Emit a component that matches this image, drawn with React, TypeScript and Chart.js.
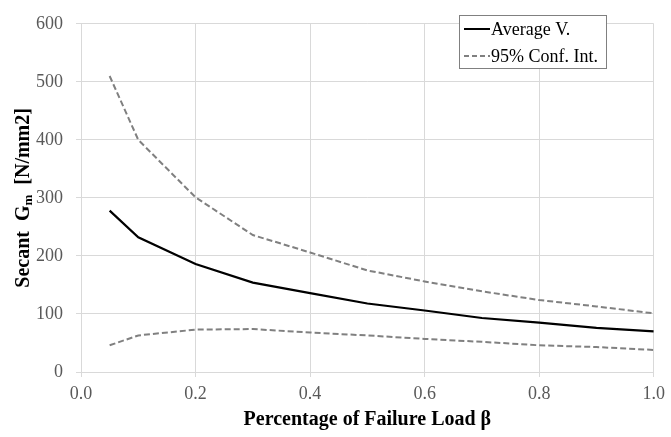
import React, { useEffect, useRef } from "react";
import { Chart, registerables } from "chart.js";

Chart.register(...registerables);

const betaValues = [0.05, 0.1, 0.2, 0.3, 0.4, 0.5, 0.6, 0.7, 0.8, 0.9, 1.0];
const averageValues = [278, 232, 186, 154, 136, 118, 106, 93, 85, 76, 70];
const upperValues = [510, 400, 301, 236, 206, 175, 156, 139, 124, 113, 101];
const lowerValues = [46, 63, 73, 74, 68, 63, 57, 52, 46, 43, 38];
const seriesLabels = ["Average V.", "95% Conf. Int."];
const xTitle = "Percentage of Failure Load β";

const SERIF = "'Liberation Serif', 'Times New Roman', serif";

const pts = (ys: number[]) => betaValues.map((x, i) => ({ x, y: ys[i] }));

const decorPlugin = {
  id: "decor",
  afterDraw(chart: any) {
    const ctx = chart.ctx as CanvasRenderingContext2D;
    const area = chart.chartArea;
    ctx.save();
    // X title
    ctx.fillStyle = "#000";
    ctx.font = `bold 20px ${SERIF}`;
    ctx.textAlign = "center";
    ctx.textBaseline = "middle";
    ctx.fillText(xTitle, (area.left + area.right) / 2, 420);

    // Y title with subscript
    const cy = (area.top + area.bottom) / 2;
    ctx.translate(24, cy);
    ctx.rotate(-Math.PI / 2);
    ctx.textAlign = "left";
    ctx.textBaseline = "middle";
    const p1 = "Secant  G";
    const p2 = "m";
    const p3 = "  [N/mm2]";
    ctx.font = `bold 20px ${SERIF}`;
    const w1 = ctx.measureText(p1).width;
    const w3 = ctx.measureText(p3).width;
    ctx.font = `bold 13px ${SERIF}`;
    const w2 = ctx.measureText(p2).width;
    const total = w1 + w2 + w3;
    let x0 = -total / 2;
    ctx.font = `bold 20px ${SERIF}`;
    ctx.fillText(p1, x0, 0);
    x0 += w1;
    ctx.font = `bold 13px ${SERIF}`;
    ctx.fillText(p2, x0, 5);
    x0 += w2;
    ctx.font = `bold 20px ${SERIF}`;
    ctx.fillText(p3, x0, 0);
    ctx.restore();

    // Legend box
    ctx.save();
    const lx = 459.5, ly = 15.5, lw = 147, lh = 53;
    ctx.fillStyle = "#fff";
    ctx.fillRect(lx, ly, lw, lh);
    ctx.strokeStyle = "#808080";
    ctx.lineWidth = 1;
    ctx.strokeRect(lx, ly, lw, lh);
    const rows = [
      { y: 29, color: "#000", dash: [] as number[], label: seriesLabels[0] },
      { y: 56, color: "#808080", dash: [5, 3], label: seriesLabels[1] },
    ];
    rows.forEach((r) => {
      ctx.beginPath();
      ctx.setLineDash(r.dash);
      ctx.strokeStyle = r.color;
      ctx.lineWidth = 2;
      ctx.moveTo(464, r.y);
      ctx.lineTo(490, r.y);
      ctx.stroke();
      ctx.setLineDash([]);
      ctx.fillStyle = "#000";
      ctx.font = `18px ${SERIF}`;
      ctx.textAlign = "left";
      ctx.textBaseline = "middle";
      ctx.fillText(r.label, 491, r.y + 1);
    });
    ctx.restore();
  },
};

export default function App() {
  const ref = useRef<HTMLCanvasElement | null>(null);
  useEffect(() => {
    if (!ref.current) return;
    const grid = { color: "#d9d9d9", lineWidth: 1, tickLength: 5 };
    const chart = new Chart(ref.current, {
      type: "scatter",
      data: {
        datasets: [
          {
            label: seriesLabels[0],
            data: pts(averageValues),
            showLine: true,
            borderColor: "#000",
            borderWidth: 2.2,
            pointRadius: 0,
            tension: 0,
          },
          {
            label: seriesLabels[1],
            data: pts(upperValues),
            showLine: true,
            borderColor: "#808080",
            borderWidth: 2,
            borderDash: [6, 3],
            pointRadius: 0,
            tension: 0,
          },
          {
            label: seriesLabels[1] + " (lower)",
            data: pts(lowerValues),
            showLine: true,
            borderColor: "#808080",
            borderWidth: 2,
            borderDash: [6, 3],
            pointRadius: 0,
            tension: 0,
          },
        ],
      },
      options: {
        animation: false,
        responsive: false,
        maintainAspectRatio: false,
        layout: { padding: { top: 12, right: 13, left: 0, bottom: 0 } },
        plugins: { legend: { display: false }, tooltip: { enabled: false } },
        scales: {
          x: {
            type: "linear",
            min: 0,
            max: 1,
            afterFit: (s: any) => {
              s.height = 65;
            },
            ticks: {
              stepSize: 0.2,
              color: "#595959",
              font: { family: SERIF, size: 18 },
              padding: 6,
              maxRotation: 0,
              callback: (v: any) => Number(v).toFixed(1),
            },
            grid,
            border: { color: "#d9d9d9" },
          },
          y: {
            min: 0,
            max: 600,
            afterFit: (s: any) => {
              s.width = 81;
            },
            ticks: {
              stepSize: 100,
              color: "#595959",
              font: { family: SERIF, size: 18 },
              padding: 13,
            },
            grid,
            border: { color: "#d9d9d9" },
          },
        },
      },
      plugins: [decorPlugin],
    } as any);
    return () => chart.destroy();
  }, []);
  return (
    <div style={{ position: "fixed", left: 0, top: 0, width: 671, height: 437, background: "#fff" }}>
      <canvas ref={ref} width={671} height={437} style={{ width: 671, height: 437 }} />
    </div>
  );
}
